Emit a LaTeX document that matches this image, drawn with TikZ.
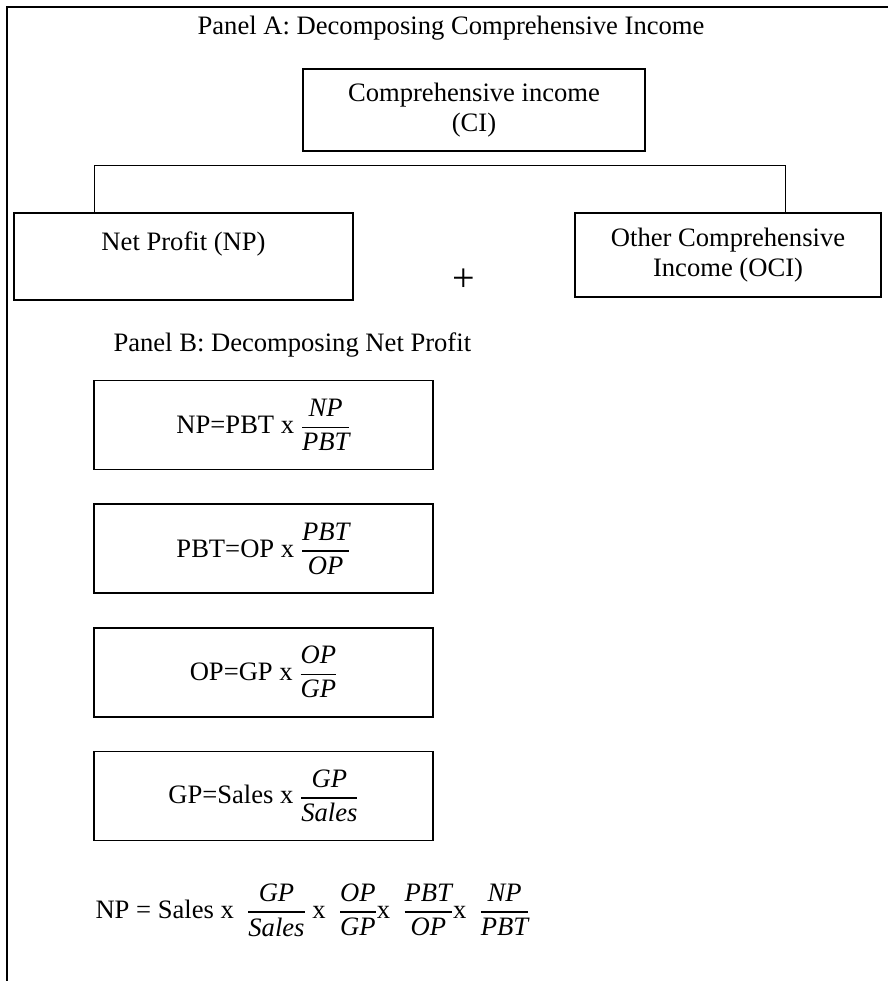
\documentclass[tikz,border=0pt]{standalone}
\usepackage{amsmath}
\usepackage{fontspec}
\setmainfont{Liberation Serif}
\usetikzlibrary{positioning}

\newcommand{\ratio}[2]{\genfrac{}{}{1.6pt}{0}{\textit{#1}}{\textit{#2}}}

\begin{document}
\begin{tikzpicture}[
  x=1pt, y=1pt,
  every node/.style={font=\fontsize{26.6}{30}\selectfont},
  box/.style={draw, line width=1.6pt, align=center, inner sep=0pt},
  partbox/.style={box, minimum width=339pt, minimum height=89pt},
  link/.style={line width=1.3pt}
]
  \useasboundingbox (0,0) rectangle (888,-981);
  % page frame
  \draw[line width=2pt] (7,-981) -- (7,-7) -- (888,-7);

  % Panel A
  \node (titleA) at (451,-28) {Panel A: Decomposing Comprehensive Income};
  \node[box, minimum width=342pt, minimum height=82pt] (ci) at (474,-110) {Comprehensive income\\(CI)};
  \node[box, minimum width=339pt, minimum height=87pt] (np) at (183.5,-256.5) {Net Profit (NP)\\\mbox{}};
  \node[box, minimum width=306pt, minimum height=84pt] (oci) at (728,-255) {Other Comprehensive\\Income (OCI)};
  \node[font=\fontsize{40}{40}\selectfont] (plus) at (464,-280) {+};
  \draw[link] ([xshift=81pt]np.north west) -- ++(0,47) -| ([xshift=-96pt]oci.north east);

  % Panel B
  \node[anchor=west] (titleB) at (110,-345) {Panel B: Decomposing Net Profit};
  \node[partbox] (stepnp) at (263.5,-425) {NP=PBT x $\ratio{NP}{PBT}$};
  \node[partbox, below=33pt of stepnp] (steppbt) {PBT=OP x\ $\ratio{PBT}{OP}$};
  \node[partbox, below=33pt of steppbt] (stepop) {OP=GP x\ $\ratio{OP}{GP}$};
  \node[partbox, below=33pt of stepop] (stepgp) {GP=Sales x\ $\ratio{GP}{Sales}$};
  \node[anchor=west] (total) at (92,-910) {NP = Sales x\ \ $\ratio{GP}{Sales}$\ x\ \ $\ratio{OP}{GP}$x\ \ $\ratio{PBT}{OP}$x\ \ $\ratio{NP}{PBT}$};
\end{tikzpicture}
\end{document}
